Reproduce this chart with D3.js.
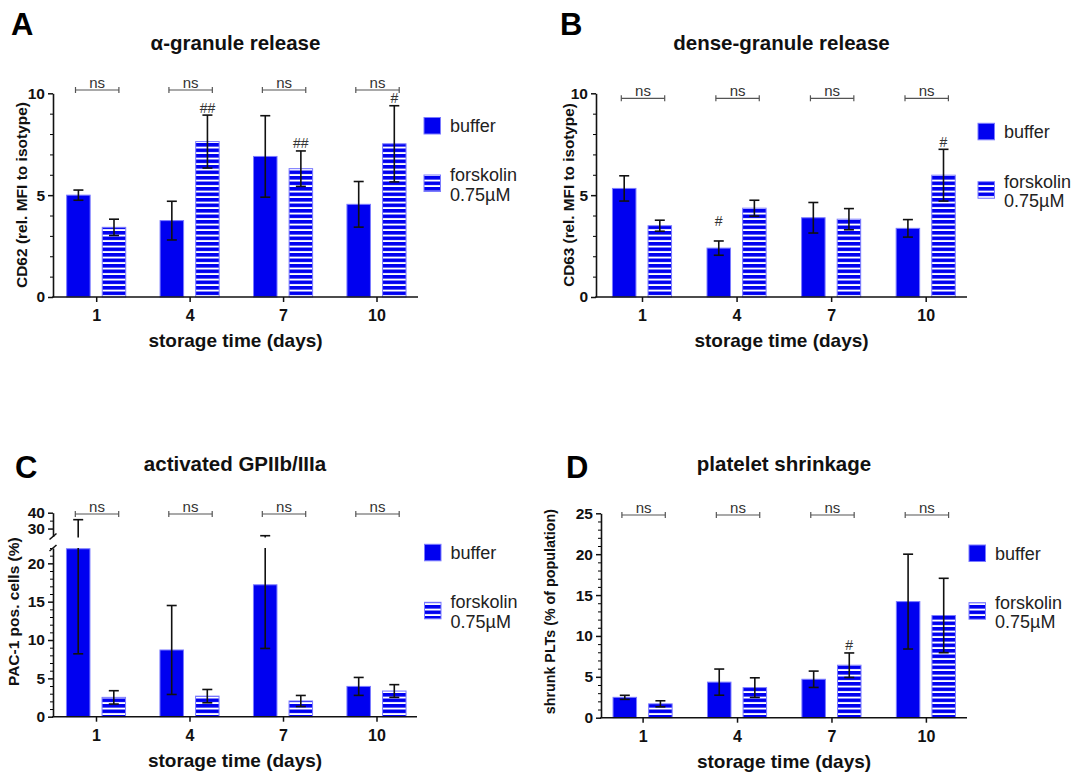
<!DOCTYPE html>
<html>
<head>
<meta charset="utf-8">
<script src="https://cdn.jsdelivr.net/npm/d3@7"></script>
<style>
  body { margin: 0; background: #fff; }
  svg { display: block; }
  text { font-family: "Liberation Sans", Arial, sans-serif; }
</style>
</head>
<body>
<svg id="fig" width="1074" height="775"></svg>
<script>
// storage days (categories)
var days = ["1", "4", "7", "10"];

// A: CD62 (alpha-granule release), mean and SD
var cd62Buffer = [5.0, 3.75, 6.9, 4.55];
var cd62BufferSd = [0.25, 0.95, 2.0, 1.12];
var cd62Forsk = [3.42, 7.63, 6.3, 7.52];
var cd62ForskSd = [0.4, 1.3, 0.87, 1.87];
var cd62BufferSig = ["", "", "", ""];
var cd62ForskSig = ["", "##", "##", "#"];
var cd62Ticks = [0, 5, 10];

// B: CD63 (dense-granule release)
var cd63Buffer = [5.33, 2.4, 3.89, 3.37];
var cd63BufferSd = [0.62, 0.35, 0.75, 0.43];
var cd63Forsk = [3.5, 4.36, 3.82, 5.98];
var cd63ForskSd = [0.27, 0.39, 0.52, 1.27];
var cd63BufferSig = ["", "#", "", ""];
var cd63ForskSig = ["", "", "", "#"];
var cd63Ticks = [0, 5, 10];

// C: PAC-1 positive cells (%)
var pac1Buffer = [21.9, 8.7, 17.2, 3.95];
var pac1BufferSd = [13.7, 5.8, 8.3, 1.17];
var pac1Forsk = [2.52, 2.68, 2.05, 3.35];
var pac1ForskSd = [0.87, 0.87, 0.72, 0.83];
var pac1BufferSig = ["", "", "", ""];
var pac1ForskSig = ["", "", "", ""];
var pac1Ticks = [0, 5, 10, 15, 20];
var pac1UpperTicks = [30, 40];

// D: shrunk PLTs (% of population)
var shrunkBuffer = [2.49, 4.35, 4.7, 14.2];
var shrunkBufferSd = [0.25, 1.6, 1.0, 5.8];
var shrunkForsk = [1.7, 3.68, 6.42, 12.5];
var shrunkForskSd = [0.37, 1.2, 1.5, 4.55];
var shrunkBufferSig = ["", "", "", ""];
var shrunkForskSig = ["", "", "#", ""];
var shrunkTicks = [0, 5, 10, 15, 20, 25];

var groupTest = ["ns", "ns", "ns", "ns"];
var legendNames = ["buffer", "forskolin", "0.75µM"];

var svg = d3.select("#fig");
var blue = "#0000f0", edge = "#7b7bff", ink = "#111";

// striped fill for forskolin bars
var pat = svg.append("defs").append("pattern")
    .attr("id", "stripes")
    .attr("patternUnits", "userSpaceOnUse")
    .attr("width", 10)
    .attr("height", 5.5);
pat.append("rect").attr("width", 10).attr("height", 5.5).attr("fill", blue);
pat.append("rect").attr("y", 3.6).attr("width", 10).attr("height", 1.9).attr("fill", "#fff");

var panels = [
  {letter: "A", lx: 11, ly: 35, title: "α-granule release", ylabel: "CD62 (rel. MFI to isotype)",
   buf: cd62Buffer, bufSd: cd62BufferSd, fsk: cd62Forsk, fskSd: cd62ForskSd,
   bufSig: cd62BufferSig, fskSig: cd62ForskSig, ticks: cd62Ticks, maxY: 10,
   x0: 53, x1: 418, c0: 96.2, c3: 376.5, y0: 297, y1: 93.3, ylx: 22, yly: 195, ylSize: 15.5,
   titleY: 50, nsY: 90, legX: 424, legY: 117.5, legGap: 57.5},
  {letter: "B", lx: 560, ly: 35, title: "dense-granule release", ylabel: "CD63 (rel. MFI to isotype)",
   buf: cd63Buffer, bufSd: cd63BufferSd, fsk: cd63Forsk, fskSd: cd63ForskSd,
   bufSig: cd63BufferSig, fskSig: cd63ForskSig, ticks: cd63Ticks, maxY: 10,
   x0: 596, x1: 967, c0: 642, c3: 925.7, y0: 297, y1: 93.3, ylx: 569, yly: 195, ylSize: 15.3,
   titleY: 50, nsY: 98.3, legX: 978, legY: 123.3, legGap: 58.4, bufLift: [0, 12, 0, 0]},
  {letter: "C", lx: 15, ly: 478, title: "activated GPIIb/IIIa", ylabel: "PAC-1 pos. cells (%)",
   buf: pac1Buffer, bufSd: pac1BufferSd, fsk: pac1Forsk, fskSd: pac1ForskSd,
   bufSig: pac1BufferSig, fskSig: pac1ForskSig, ticks: pac1Ticks, maxY: 22,
   x0: 53, x1: 417, c0: 96, c3: 376.5, y0: 716.7, y1: 548, ylx: 14, yly: 611.7, ylSize: 15.5,
   titleY: 471, nsY: 514, legX: 424.5, legY: 544.3, legGap: 58,
   brk: {upMin: 25, upMax: 40, top: 512.7, bottom: 536.5, ticks: pac1UpperTicks, minor: [35]}},
  {letter: "D", lx: 566, ly: 478, title: "platelet shrinkage", ylabel: "shrunk PLTs (% of population)",
   buf: shrunkBuffer, bufSd: shrunkBufferSd, fsk: shrunkForsk, fskSd: shrunkForskSd,
   bufSig: shrunkBufferSig, fskSig: shrunkForskSig, ticks: shrunkTicks, maxY: 25,
   x0: 601, x1: 967, c0: 642.6, c3: 925.9, y0: 717.7, y1: 513.3, ylx: 550, yly: 611.7, ylSize: 14.3,
   titleY: 471, nsY: 515, legX: 969, legY: 545, legGap: 57.7}
];

panels.forEach(drawPanel);

function drawPanel(p) {
  var g = svg.append("g");
  var x = d3.scalePoint().domain(days).range([p.c0, p.c3]);
  var y = d3.scaleLinear().domain([0, p.maxY]).range([p.y0, p.y1]);
  var yUp = null;
  if (p.brk) {
    yUp = d3.scaleLinear().domain([p.brk.upMin, p.brk.upMax]).range([p.brk.bottom, p.brk.top]);
  }
  var yv = function(v) {
    if (yUp && v > p.maxY) return yUp(Math.max(v, p.brk.upMin));
    return y(Math.min(v, p.maxY));
  };
  var bw = 23.5, off = 17.8, cap = 5;
  var midX = (p.x0 + p.x1) / 2;

  // letter and title
  g.append("text").attr("x", p.lx).attr("y", p.ly)
    .attr("font-size", 31).attr("font-weight", "bold").attr("fill", "#000").text(p.letter);
  g.append("text").attr("x", midX).attr("y", p.titleY)
    .attr("text-anchor", "middle").attr("font-size", 20.5).attr("font-weight", "bold")
    .attr("fill", ink).text(p.title);

  // bars
  var series = [
    {vals: p.buf, sd: p.bufSd, sig: p.bufSig, dx: -off, fill: blue, lift: p.bufLift},
    {vals: p.fsk, sd: p.fskSd, sig: p.fskSig, dx: off, fill: "url(#stripes)", lift: null}
  ];
  series.forEach(function(s) {
    g.selectAll(null).data(s.vals).enter().append("rect")
      .attr("x", function(d, i) { return x(days[i]) + s.dx - bw / 2; })
      .attr("y", function(d) { return yv(d); })
      .attr("width", bw)
      .attr("height", function(d) { return p.y0 - yv(d); })
      .attr("fill", s.fill)
      .attr("stroke", edge)
      .attr("stroke-width", 1);
  });

  // error bars
  series.forEach(function(s) {
    s.vals.forEach(function(m, i) {
      var cx = x(days[i]) + s.dx;
      var lo = m - s.sd[i], hi = m + s.sd[i];
      var eg = g.append("g").attr("stroke", ink).attr("stroke-width", 1.6).attr("fill", "none");
      if (yUp && hi > p.maxY) {
        eg.append("line").attr("x1", cx).attr("x2", cx).attr("y1", y(lo)).attr("y2", y(p.maxY));
        eg.append("line").attr("x1", cx).attr("x2", cx).attr("y1", yUp(p.brk.upMin) + 1).attr("y2", yUp(hi));
      } else {
        eg.append("line").attr("x1", cx).attr("x2", cx).attr("y1", y(lo)).attr("y2", y(hi));
      }
      eg.append("line").attr("x1", cx - cap).attr("x2", cx + cap).attr("y1", y(lo)).attr("y2", y(lo));
      eg.append("line").attr("x1", cx - cap).attr("x2", cx + cap).attr("y1", yv(hi)).attr("y2", yv(hi));
      if (s.sig[i]) {
        var lift = s.lift ? s.lift[i] : 0;
        g.append("text").attr("x", cx).attr("y", yv(hi) - 2.5 - lift)
          .attr("text-anchor", "middle").attr("font-size", 14).attr("fill", "#333").text(s.sig[i]);
      }
    });
  });

  // ns brackets between groups
  groupTest.forEach(function(t, i) {
    var cx = x(days[i]) + 1;
    var bg = g.append("g").attr("stroke", "#555").attr("stroke-width", 1.2);
    bg.append("line").attr("x1", cx - 21.7).attr("x2", cx + 21.7).attr("y1", p.nsY).attr("y2", p.nsY);
    bg.append("line").attr("x1", cx - 21.7).attr("x2", cx - 21.7).attr("y1", p.nsY - 3).attr("y2", p.nsY + 3);
    bg.append("line").attr("x1", cx + 21.7).attr("x2", cx + 21.7).attr("y1", p.nsY - 3).attr("y2", p.nsY + 3);
    g.append("text").attr("x", cx).attr("y", p.nsY - 2.5)
      .attr("text-anchor", "middle").attr("font-size", 15).attr("fill", "#333").text(t);
  });

  // y axis
  var minor = d3.range(1, p.maxY + 0.01, 1).filter(function(v) { return p.ticks.indexOf(v) < 0; });
  var yAx = g.append("g").attr("transform", "translate(" + p.x0 + ",0)")
    .call(d3.axisLeft(y).tickValues(p.ticks).tickSize(5).tickSizeOuter(0).tickPadding(3));
  g.append("g").attr("transform", "translate(" + p.x0 + ",0)")
    .call(d3.axisLeft(y).tickValues(minor).tickSize(3).tickSizeOuter(0).tickFormat(""))
    .call(function(a) { a.select(".domain").remove(); });
  styleAxis(yAx);

  if (yUp) {
    var upAx = g.append("g").attr("transform", "translate(" + p.x0 + ",0)")
      .call(d3.axisLeft(yUp).tickValues(p.brk.ticks).tickSize(5).tickSizeOuter(0).tickPadding(3));
    g.append("g").attr("transform", "translate(" + p.x0 + ",0)")
      .call(d3.axisLeft(yUp).tickValues(p.brk.minor).tickSize(3).tickSizeOuter(0).tickFormat(""))
      .call(function(a) { a.select(".domain").remove(); });
    styleAxis(upAx);
    // break marks
    [y(p.maxY), yUp(p.brk.upMin)].forEach(function(yy) {
      g.append("line").attr("x1", p.x0 - 3.5).attr("x2", p.x0 + 3.5)
        .attr("y1", yy + 3).attr("y2", yy - 3)
        .attr("stroke", ink).attr("stroke-width", 1.6);
    });
  }

  // x axis
  var xAx = g.append("g").attr("transform", "translate(0," + p.y0 + ")")
    .call(d3.axisBottom(x).tickSize(5).tickSizeOuter(0).tickPadding(8));
  xAx.select(".domain").remove();
  xAx.append("line").attr("x1", p.x0 - 0.8).attr("x2", p.x1).attr("y1", 0).attr("y2", 0)
    .attr("stroke", ink).attr("stroke-width", 1.6);
  styleAxis(xAx);
  xAx.selectAll("text").attr("font-size", 16);

  g.append("text").attr("x", midX).attr("y", p.y0 + 50)
    .attr("text-anchor", "middle").attr("font-size", 19).attr("font-weight", "bold")
    .attr("fill", ink).text("storage time (days)");

  g.append("text")
    .attr("transform", "translate(" + p.ylx + "," + p.yly + ") rotate(-90)")
    .attr("dy", "0.35em")
    .attr("text-anchor", "middle").attr("font-size", p.ylSize).attr("font-weight", "bold")
    .attr("fill", ink).text(p.ylabel);

  // legend
  var sw = 16.5;
  g.append("rect").attr("x", p.legX).attr("y", p.legY).attr("width", sw).attr("height", sw)
    .attr("fill", blue).attr("stroke", edge);
  g.append("rect").attr("x", p.legX).attr("y", p.legY + p.legGap).attr("width", sw).attr("height", sw)
    .attr("fill", "url(#stripes)").attr("stroke", edge);
  var tx = p.legX + 26;
  g.append("text").attr("x", tx).attr("y", p.legY + 14.7)
    .attr("font-size", 18).attr("fill", "#222").text(legendNames[0]);
  g.append("text").attr("x", tx).attr("y", p.legY + p.legGap + 6)
    .attr("font-size", 18).attr("fill", "#222").text(legendNames[1]);
  g.append("text").attr("x", tx).attr("y", p.legY + p.legGap + 25.5)
    .attr("font-size", 18).attr("fill", "#222").text(legendNames[2]);
}

function styleAxis(a) {
  a.select(".domain").attr("stroke", ink).attr("stroke-width", 1.6);
  a.selectAll(".tick line").attr("stroke", ink).attr("stroke-width", 1.5);
  a.selectAll("text").attr("font-size", 15.5).attr("font-weight", "bold")
    .attr("fill", ink).attr("font-family", '"Liberation Sans", Arial, sans-serif');
}
</script>
</body>
</html>
